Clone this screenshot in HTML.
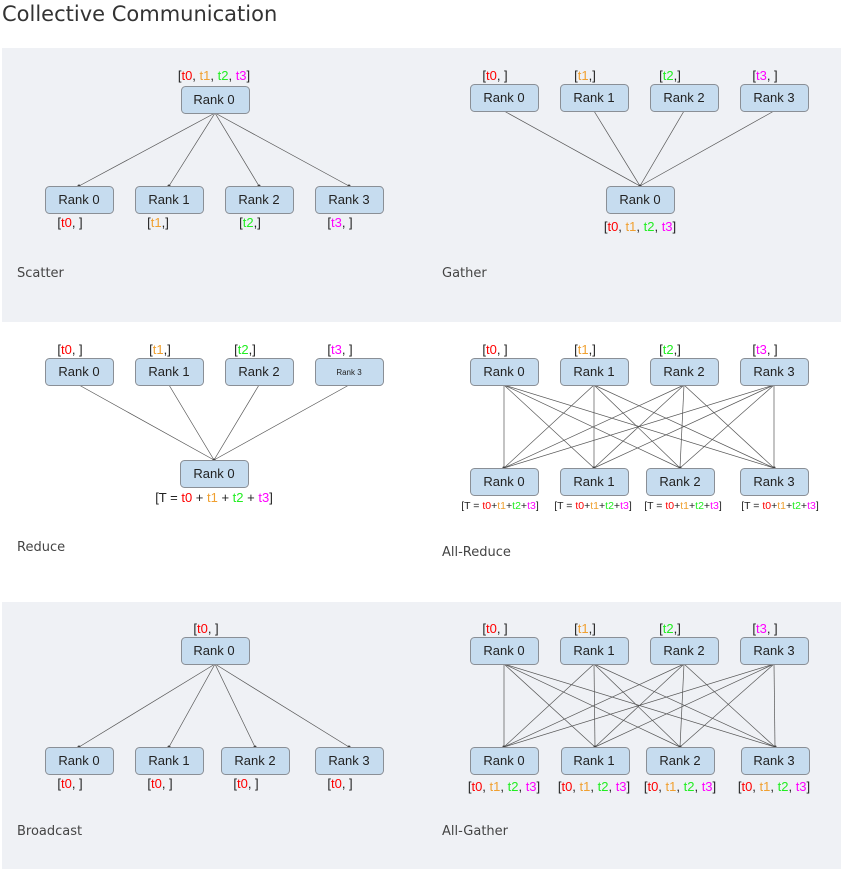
<!DOCTYPE html>
<html><head><meta charset="utf-8"><style>
html,body{margin:0;padding:0;width:841px;height:869px;background:#fff;overflow:hidden}
svg{display:block}
.t{font-family:"Liberation Sans",sans-serif;font-size:13px;fill:#222}
.s{font-family:"DejaVu Sans","Liberation Sans",sans-serif;font-size:13px;fill:#444}
.r{fill:#f00}.o{fill:#f0a030}.g{fill:#2e2}.m{fill:#f0f}
rect.b{fill:#c6dcef;stroke:#8a8f96;stroke-width:1}
</style></head><body>
<svg id="sv" width="841" height="869" xmlns="http://www.w3.org/2000/svg">
<rect x="0" y="0" width="841" height="869" fill="#fff"/>
<rect x="2" y="48" width="839" height="274" fill="#eff1f5"/>
<rect x="2" y="602" width="839" height="267" fill="#eff1f5"/>
<text x="2" y="21" font-family="DejaVu Sans,Liberation Sans,sans-serif" font-size="21" fill="#333">Collective Communication</text>
<g id="lines" stroke="#555" stroke-width="0.7"></g>
<g id="boxes"></g>
<g class="t" text-anchor="middle">
<!-- Scatter -->
<text x="214" y="80">[<tspan class="r">t0</tspan>, <tspan class="o">t1</tspan>, <tspan class="g">t2</tspan>, <tspan class="m">t3</tspan>]</text>
<text x="214" y="104">Rank 0</text>
<text x="79" y="204">Rank 0</text><text x="169" y="204">Rank 1</text><text x="259" y="204">Rank 2</text><text x="349" y="204">Rank 3</text>
<text x="70" y="227">[<tspan class="r">t0</tspan>, ]</text><text x="158" y="227">[<tspan class="o">t1</tspan>,]</text><text x="250" y="227">[<tspan class="g">t2</tspan>,]</text><text x="340" y="227">[<tspan class="m">t3</tspan>, ]</text>
<!-- Gather -->
<text x="495" y="80">[<tspan class="r">t0</tspan>, ]</text><text x="585" y="80">[<tspan class="o">t1</tspan>,]</text><text x="670" y="80">[<tspan class="g">t2</tspan>,]</text><text x="765" y="80">[<tspan class="m">t3</tspan>, ]</text>
<text x="504" y="102">Rank 0</text><text x="594" y="102">Rank 1</text><text x="684" y="102">Rank 2</text><text x="774" y="102">Rank 3</text>
<text x="640" y="204">Rank 0</text>
<text x="640" y="231">[<tspan class="r">t0</tspan>, <tspan class="o">t1</tspan>, <tspan class="g">t2</tspan>, <tspan class="m">t3</tspan>]</text>
<!-- Reduce -->
<text x="70" y="354">[<tspan class="r">t0</tspan>, ]</text><text x="160" y="354">[<tspan class="o">t1</tspan>,]</text><text x="245" y="354">[<tspan class="g">t2</tspan>,]</text><text x="340" y="354">[<tspan class="m">t3</tspan>, ]</text>
<text x="79" y="376">Rank 0</text><text x="169" y="376">Rank 1</text><text x="259" y="376">Rank 2</text><text x="349" y="375" font-size="8">Rank 3</text>
<text x="214" y="478">Rank 0</text>
<text x="214" y="502">[T = <tspan class="r">t0</tspan> + <tspan class="o">t1</tspan> + <tspan class="g">t2</tspan> + <tspan class="m">t3</tspan>]</text>
<!-- All-Reduce -->
<text x="495" y="354">[<tspan class="r">t0</tspan>, ]</text><text x="585" y="354">[<tspan class="o">t1</tspan>,]</text><text x="670" y="354">[<tspan class="g">t2</tspan>,]</text><text x="765" y="354">[<tspan class="m">t3</tspan>, ]</text>
<text x="504" y="376">Rank 0</text><text x="594" y="376">Rank 1</text><text x="684" y="376">Rank 2</text><text x="774" y="376">Rank 3</text>
<text x="504" y="486">Rank 0</text><text x="594" y="486">Rank 1</text><text x="680" y="486">Rank 2</text><text x="774" y="486">Rank 3</text>
<g font-size="10.5">
<text x="500" y="509">[T = <tspan class="r">t0</tspan>+<tspan class="o">t1</tspan>+<tspan class="g">t2</tspan>+<tspan class="m">t3</tspan>]</text>
<text x="593" y="509">[T = <tspan class="r">t0</tspan>+<tspan class="o">t1</tspan>+<tspan class="g">t2</tspan>+<tspan class="m">t3</tspan>]</text>
<text x="683" y="509">[T = <tspan class="r">t0</tspan>+<tspan class="o">t1</tspan>+<tspan class="g">t2</tspan>+<tspan class="m">t3</tspan>]</text>
<text x="780" y="509">[T = <tspan class="r">t0</tspan>+<tspan class="o">t1</tspan>+<tspan class="g">t2</tspan>+<tspan class="m">t3</tspan>]</text>
</g>
<!-- Broadcast -->
<text x="206" y="633">[<tspan class="r">t0</tspan>, ]</text>
<text x="214" y="655">Rank 0</text>
<text x="79" y="765">Rank 0</text><text x="169" y="765">Rank 1</text><text x="255" y="765">Rank 2</text><text x="349" y="765">Rank 3</text>
<text x="70" y="788">[<tspan class="r">t0</tspan>, ]</text><text x="160" y="788">[<tspan class="r">t0</tspan>, ]</text><text x="246" y="788">[<tspan class="r">t0</tspan>, ]</text><text x="340" y="788">[<tspan class="r">t0</tspan>, ]</text>
<!-- All-Gather -->
<text x="495" y="633">[<tspan class="r">t0</tspan>, ]</text><text x="585" y="633">[<tspan class="o">t1</tspan>,]</text><text x="670" y="633">[<tspan class="g">t2</tspan>,]</text><text x="765" y="633">[<tspan class="m">t3</tspan>, ]</text>
<text x="504" y="655">Rank 0</text><text x="594" y="655">Rank 1</text><text x="684" y="655">Rank 2</text><text x="774" y="655">Rank 3</text>
<text x="504" y="765">Rank 0</text><text x="594" y="765">Rank 1</text><text x="680" y="765">Rank 2</text><text x="774" y="765">Rank 3</text>
<text x="504" y="791">[<tspan class="r">t0</tspan>, <tspan class="o">t1</tspan>, <tspan class="g">t2</tspan>, <tspan class="m">t3</tspan>]</text>
<text x="594" y="791">[<tspan class="r">t0</tspan>, <tspan class="o">t1</tspan>, <tspan class="g">t2</tspan>, <tspan class="m">t3</tspan>]</text>
<text x="680" y="791">[<tspan class="r">t0</tspan>, <tspan class="o">t1</tspan>, <tspan class="g">t2</tspan>, <tspan class="m">t3</tspan>]</text>
<text x="774" y="791">[<tspan class="r">t0</tspan>, <tspan class="o">t1</tspan>, <tspan class="g">t2</tspan>, <tspan class="m">t3</tspan>]</text>
</g>
<g class="s">
<text x="17" y="277">Scatter</text><text x="442" y="277">Gather</text>
<text x="17" y="551">Reduce</text><text x="442" y="556">All-Reduce</text>
<text x="17" y="835">Broadcast</text><text x="442" y="835">All-Gather</text>
</g>
</svg>
<script>
var NS="http://www.w3.org/2000/svg",L=document.getElementById("lines"),B=document.getElementById("boxes");
var W=68,H=27;
function box(x,y){var r=document.createElementNS(NS,"rect");r.setAttribute("class","b");r.setAttribute("x",x+.5);r.setAttribute("y",y+.5);r.setAttribute("width",W);r.setAttribute("height",H);r.setAttribute("rx",4);B.appendChild(r);}
function ln(x1,y1,x2,y2){var l=document.createElementNS(NS,"line");l.setAttribute("x1",x1);l.setAttribute("y1",y1);l.setAttribute("x2",x2);l.setAttribute("y2",y2);L.appendChild(l);
var c=document.createElementNS(NS,"circle");c.setAttribute("cx",x2);c.setAttribute("cy",y2);c.setAttribute("r",1.2);c.setAttribute("fill","#333");L.appendChild(c);}
function net(tops,ty,bots,by){tops.forEach(function(a){box(a,ty)});bots.forEach(function(b){box(b,by)});
tops.forEach(function(a){bots.forEach(function(b){ln(a+W/2,ty+H,b+W/2,by)})});}
var L4=[45,135,225,315],R4=[470,560,650,740];
net([181],86,L4,186);
net(R4,84,[606],186);
net(L4,358,[180],460);
net(R4,358,[470,560,646,740],468);
net([181],637,[45,135,221,315],747);
net(R4,637,[470,561,646,741],747);
</script>
</body></html>
